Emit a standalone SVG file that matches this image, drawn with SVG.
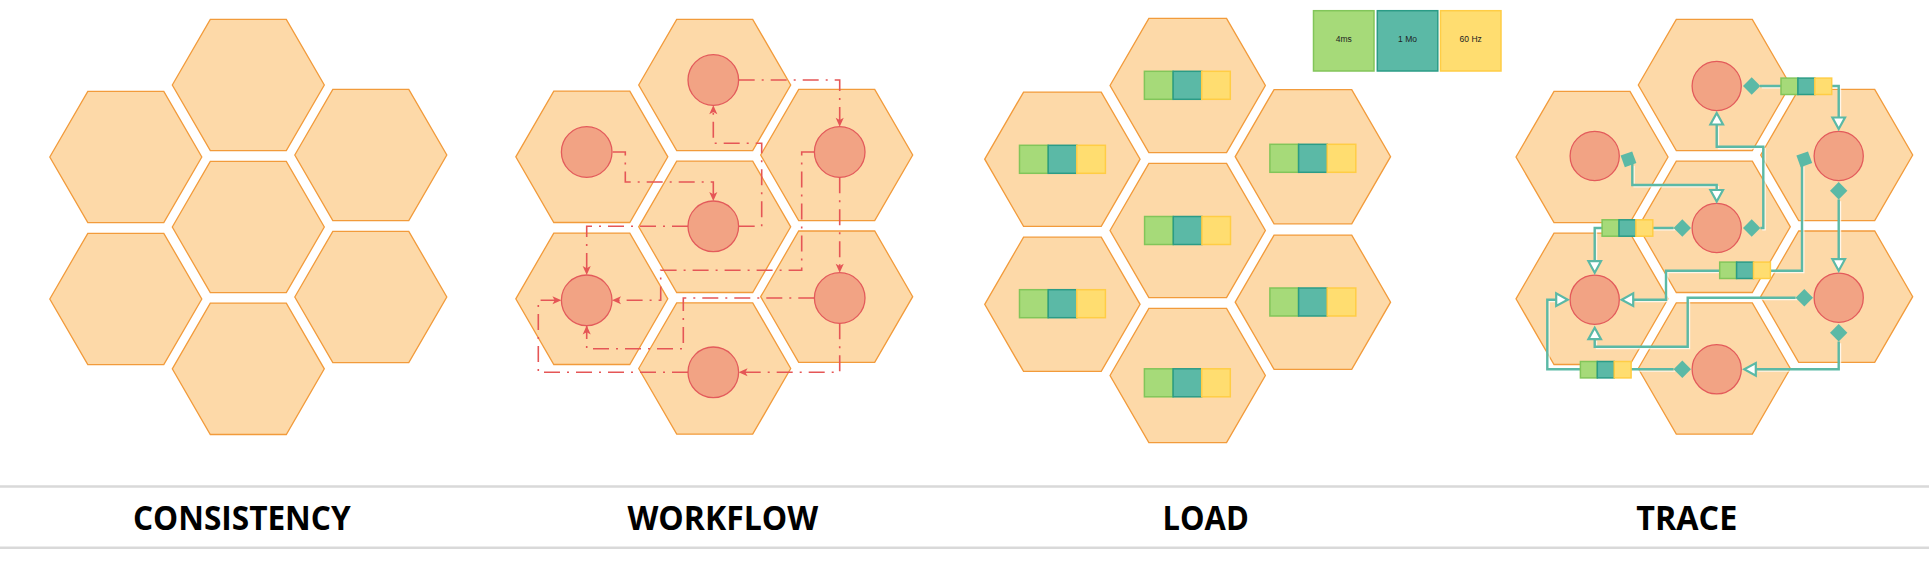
<svg xmlns="http://www.w3.org/2000/svg" xmlns:xlink="http://www.w3.org/1999/xlink" width="1929" height="563" viewBox="0 0 1929 563">
<style>
.hex{fill:#FDD9A8;stroke:#F29B3B;stroke-width:1.3}
.cir{fill:#F2A384;stroke:#E35B5B;stroke-width:1.3}
.g{fill:#A6DA79;stroke:#82C55A;stroke-width:1.5}
.t{fill:#5BB9A6;stroke:#2B9C86;stroke-width:1.5}
.y{fill:#FFDD70;stroke:#FFCD45;stroke-width:1.5}
.wf{fill:none;stroke:#E55656;stroke-width:1.6;stroke-dasharray:16 7 2 7}
.tr{fill:none;stroke:#5BB9A6;stroke-width:2.4}
.trh{fill:none;stroke:#FFFFFF;stroke-width:1.4;opacity:0.75}
.dia{fill:#5BB9A6;stroke:none}
.otri{fill:#FFFFFF;stroke:#5BB9A6;stroke-width:2.2;stroke-linejoin:miter}
.sep{stroke:#D9D9D9;stroke-width:2.5}
.lbl{font-family:"Open Sans","Noto Sans","Liberation Sans",sans-serif;font-weight:bold;font-size:34.5px;fill:#000;text-anchor:middle}
.leg{font-family:"Liberation Sans","DejaVu Sans",sans-serif;font-size:8.5px;fill:#222;text-anchor:middle}
</style>
<defs>
<polygon id="hex" points="-76,0 -38,-65.7 38,-65.7 76,0 38,65.7 -38,65.7"/>
<g id="tri3">
<rect class="g" x="-43" y="-14" width="28.6" height="28"/>
<rect class="t" x="-14.3" y="-14" width="28.6" height="28"/>
<rect class="y" x="14.3" y="-14" width="28.6" height="28"/>
</g>
<g id="tri3s">
<rect class="g" x="-25.3" y="-8.2" width="16.9" height="16.4"/>
<rect class="t" x="-8.4" y="-8.2" width="16.9" height="16.4"/>
<rect class="y" x="8.5" y="-8.2" width="16.9" height="16.4"/>
</g>
<polygon id="dia" points="-8.7,0 0,-8.7 8.7,0 0,8.7"/>
<polygon id="otri" points="0,0 -11.5,-6.3 -11.5,6.3"/>
<marker id="arr" markerUnits="userSpaceOnUse" viewBox="0 0 10 10" refX="10" refY="5" markerWidth="10" markerHeight="9" orient="auto">
<path d="M0,0.5 L10,5 L0,9.5 L2.5,5 Z" fill="#E55656"/>
</marker>
</defs>

<rect x="0" y="0" width="1929" height="563" fill="#FFFFFF"/>

<!-- CONSISTENCY -->
<g id="consistency">
<g id="c-top"><use href="#hex" class="hex" transform="translate(248.3,85)"/></g>
<g id="c-center"><use href="#hex" class="hex" transform="translate(248.3,227)"/></g>
<g id="c-bottom"><use href="#hex" class="hex" transform="translate(248.3,368.8)"/></g>
<g id="c-ul"><use href="#hex" class="hex" transform="translate(125.8,157)"/></g>
<g id="c-ll"><use href="#hex" class="hex" transform="translate(125.8,299)"/></g>
<g id="c-ur"><use href="#hex" class="hex" transform="translate(370.8,155)"/></g>
<g id="c-lr"><use href="#hex" class="hex" transform="translate(370.8,297)"/></g>
</g>

<!-- WORKFLOW -->
<g id="workflow">
<g id="w-top"><use href="#hex" class="hex" transform="translate(714.7,85)"/><circle class="cir" cx="713.3" cy="80" r="25.3"/></g>
<g id="w-center"><use href="#hex" class="hex" transform="translate(714.7,226.8)"/><circle class="cir" cx="713.3" cy="226.3" r="25.3"/></g>
<g id="w-bottom"><use href="#hex" class="hex" transform="translate(714.7,368.5)"/><circle class="cir" cx="713.3" cy="372.3" r="25.3"/></g>
<g id="w-ul"><use href="#hex" class="hex" transform="translate(591.8,156.8)"/><circle class="cir" cx="586.7" cy="152" r="25.3"/></g>
<g id="w-ll"><use href="#hex" class="hex" transform="translate(591.8,298.8)"/><circle class="cir" cx="586.7" cy="300.3" r="25.3"/></g>
<g id="w-ur"><use href="#hex" class="hex" transform="translate(836.7,155)"/><circle class="cir" cx="839.7" cy="152" r="25.3"/></g>
<g id="w-lr"><use href="#hex" class="hex" transform="translate(836.7,296.7)"/><circle class="cir" cx="839.7" cy="298" r="25.3"/></g>
</g>
<g id="workflow-connectors">
<path class="wf" d="M738.7,80 H839.7 V126.7" marker-end="url(#arr)"/>
<path class="wf" d="M612.7,152 H625.3 V182 H713.3 V201" marker-end="url(#arr)"/>
<path class="wf" d="M814.3,152 H801.7 V270.3 H660.7 V300.3 H612" marker-end="url(#arr)"/>
<path class="wf" d="M738.7,226.3 H761.7 V143.3 H713.3 V105.3" marker-end="url(#arr)"/>
<path class="wf" d="M688,226.3 H586.7 V275" marker-end="url(#arr)"/>
<path class="wf" d="M839.7,177.3 V272.7" marker-end="url(#arr)"/>
<path class="wf" d="M814.3,298 H683.3 V348.7 H586.7 V325.6" marker-end="url(#arr)"/>
<path class="wf" d="M839.7,323.3 V372.3 H738.6" marker-end="url(#arr)"/>
<path class="wf" d="M688,372.3 H538.3 V300.3 H561.4" marker-end="url(#arr)"/>
</g>

<!-- LOAD -->
<g id="load">
<g id="l-top"><use href="#hex" class="hex" transform="translate(1187.7,85.5) scale(1.022)"/><use href="#tri3" transform="translate(1187.4,85.3)"/></g>
<g id="l-center"><use href="#hex" class="hex" transform="translate(1187.7,230.5) scale(1.022)"/><use href="#tri3" transform="translate(1187.6,230.5)"/></g>
<g id="l-bottom"><use href="#hex" class="hex" transform="translate(1187.7,375.5) scale(1.022)"/><use href="#tri3" transform="translate(1187.4,382.8)"/></g>
<g id="l-ul"><use href="#hex" class="hex" transform="translate(1062.4,159.2) scale(1.022)"/><use href="#tri3" transform="translate(1062.5,159.3)"/></g>
<g id="l-ll"><use href="#hex" class="hex" transform="translate(1062.4,304.3) scale(1.022)"/><use href="#tri3" transform="translate(1062.5,303.7)"/></g>
<g id="l-ur"><use href="#hex" class="hex" transform="translate(1312.9,156.7) scale(1.022)"/><use href="#tri3" transform="translate(1312.9,158.3)"/></g>
<g id="l-lr"><use href="#hex" class="hex" transform="translate(1312.9,302.2) scale(1.022)"/><use href="#tri3" transform="translate(1312.9,302)"/></g>
</g>
<g id="legend">
<rect class="g" x="1313.5" y="10.7" width="60.5" height="60.3"/>
<rect class="t" x="1377.3" y="10.7" width="60.5" height="60.3"/>
<rect class="y" x="1440.5" y="10.7" width="60.5" height="60.3"/>
<text class="leg" x="1343.7" y="42.3">4ms</text>
<text class="leg" x="1407.5" y="42.3">1 Mo</text>
<text class="leg" x="1470.7" y="42.3">60 Hz</text>
</g>

<!-- TRACE -->
<g id="trace">
<g id="t-top"><use href="#hex" class="hex" transform="translate(1714.3,85)"/><circle class="cir" cx="1716.7" cy="86" r="24.6"/></g>
<g id="t-center"><use href="#hex" class="hex" transform="translate(1714.3,226.8)"/><circle class="cir" cx="1716.7" cy="228" r="24.6"/></g>
<g id="t-bottom"><use href="#hex" class="hex" transform="translate(1714.3,368.5)"/><circle class="cir" cx="1716.7" cy="369.3" r="24.6"/></g>
<g id="t-ul"><use href="#hex" class="hex" transform="translate(1592,157)"/><circle class="cir" cx="1594.7" cy="156" r="24.6"/></g>
<g id="t-ll"><use href="#hex" class="hex" transform="translate(1592,298.8)"/><circle class="cir" cx="1594.7" cy="299.7" r="24.6"/></g>
<g id="t-ur"><use href="#hex" class="hex" transform="translate(1836.7,155)"/><circle class="cir" cx="1838.7" cy="156" r="24.6"/></g>
<g id="t-lr"><use href="#hex" class="hex" transform="translate(1836.7,296.7)"/><circle class="cir" cx="1838.7" cy="297.7" r="24.6"/></g>
</g>
<g id="trace-connectors">
<g transform="translate(1.8,1.8)">
<path class="trh" d="M1760,86 H1838.7 V117"/>
<path class="trh" d="M1632.3,164 V185 H1716.7 V189.5"/>
<path class="trh" d="M1760.4,228 H1763.3 V146.7 H1716.7 V125"/>
<path class="trh" d="M1673.6,228 H1594.7 V261"/>
<path class="trh" d="M1802,165 V270.7 H1666 V299.7 H1633.5"/>
<path class="trh" d="M1838.7,199.4 V259"/>
<path class="trh" d="M1795.6,297.7 H1687.7 V346.7 H1594.7 V339.2"/>
<path class="trh" d="M1838.7,341.4 V369.3 H1756"/>
<path class="trh" d="M1673.6,369.3 H1547.3 V299.7 H1556"/>
</g>
<path class="tr" d="M1760,86 H1838.7 V117"/>
<path class="tr" d="M1632.3,164 V185 H1716.7 V189.5"/>
<path class="tr" d="M1760.4,228 H1763.3 V146.7 H1716.7 V125"/>
<path class="tr" d="M1673.6,228 H1594.7 V261"/>
<path class="tr" d="M1802,165 V270.7 H1666 V299.7 H1633.5"/>
<path class="tr" d="M1838.7,199.4 V259"/>
<path class="tr" d="M1795.6,297.7 H1687.7 V346.7 H1594.7 V339.2"/>
<path class="tr" d="M1838.7,341.4 V369.3 H1756"/>
<path class="tr" d="M1673.6,369.3 H1547.3 V299.7 H1556"/>
<use href="#dia" class="dia" transform="translate(1751.7,86)"/>
<use href="#dia" class="dia" transform="translate(1628.5,159.3) rotate(25)"/>
<use href="#dia" class="dia" transform="translate(1751.7,228)"/>
<use href="#dia" class="dia" transform="translate(1682.3,228)"/>
<use href="#dia" class="dia" transform="translate(1804.3,159.3) rotate(25)"/>
<use href="#dia" class="dia" transform="translate(1838.7,190.7)"/>
<use href="#dia" class="dia" transform="translate(1804.3,297.7)"/>
<use href="#dia" class="dia" transform="translate(1838.7,332.7)"/>
<use href="#dia" class="dia" transform="translate(1682.3,369.3)"/>
<use href="#otri" class="otri" transform="translate(1838.7,129) rotate(90)"/>
<use href="#otri" class="otri" transform="translate(1716.7,201.5) rotate(90)"/>
<use href="#otri" class="otri" transform="translate(1716.7,113) rotate(-90)"/>
<use href="#otri" class="otri" transform="translate(1594.7,272.7) rotate(90)"/>
<use href="#otri" class="otri" transform="translate(1621.7,299.7) rotate(180)"/>
<use href="#otri" class="otri" transform="translate(1838.7,270.7) rotate(90)"/>
<use href="#otri" class="otri" transform="translate(1594.7,327.7) rotate(-90)"/>
<use href="#otri" class="otri" transform="translate(1744.3,369.3) rotate(180)"/>
<use href="#otri" class="otri" transform="translate(1567.7,299.7)"/>
<use href="#tri3s" transform="translate(1806.3,86.3)"/>
<use href="#tri3s" transform="translate(1627.4,228)"/>
<use href="#tri3s" transform="translate(1745,270.3)"/>
<use href="#tri3s" transform="translate(1605.7,369.7)"/>
</g>

<!-- LABELS -->
<g id="labels">
<line class="sep" x1="0" y1="486.5" x2="1929" y2="486.5"/>
<line class="sep" x1="0" y1="547.7" x2="1929" y2="547.7"/>
<text class="lbl" x="241.8" y="530" textLength="217.7" lengthAdjust="spacingAndGlyphs">CONSISTENCY</text>
<text class="lbl" x="722.8" y="530" textLength="190.7" lengthAdjust="spacingAndGlyphs">WORKFLOW</text>
<text class="lbl" x="1205.7" y="530" textLength="86.2" lengthAdjust="spacingAndGlyphs">LOAD</text>
<text class="lbl" x="1686.8" y="530" textLength="100.9" lengthAdjust="spacingAndGlyphs">TRACE</text>
</g>
</svg>
